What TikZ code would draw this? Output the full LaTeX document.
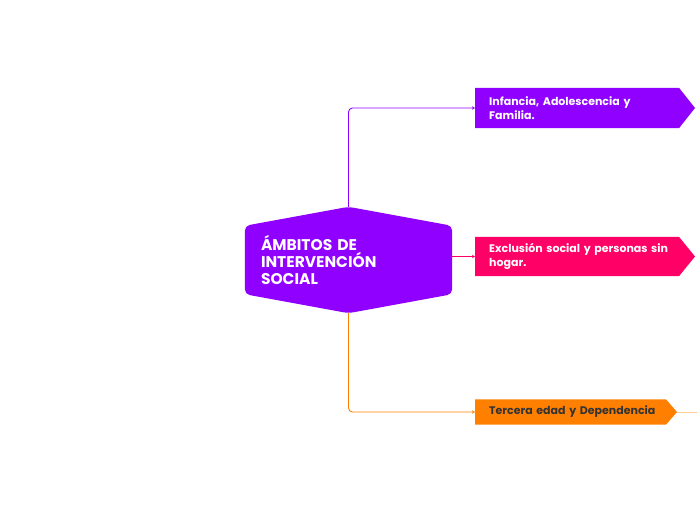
\documentclass[tikz,border=0pt]{standalone}
\usepackage{fontspec}
\setmainfont{Poppins}
\usetikzlibrary{arrows.meta,positioning,calc,backgrounds}
\definecolor{hubpurple}{HTML}{9000FF}
\definecolor{pinkred}{HTML}{FF0066}
\definecolor{brightorange}{HTML}{FF8000}
\definecolor{darktext}{HTML}{333333}

\begin{document}
\begin{tikzpicture}[x=1pt, y=-1pt,
    hub/.style={minimum width=207pt, minimum height=106pt, inner sep=0pt, text width=175pt, align=left, font=\bfseries\fontsize{15.5}{17}\selectfont, text=white},
    branch/.style={anchor=west, inner xsep=14pt, inner ysep=0pt, text width=185pt, align=left, font=\bfseries\fontsize{11}{14}\selectfont, text=white},
    link/.style={line width=0.9pt, rounded corners=4pt, -{Stealth[length=3pt,width=3.5pt]}}
  ]
    \useasboundingbox (0,0) rectangle (697,520);

    \node[hub] (hub) at (348.5,260) {ÁMBITOS DE\\INTERVENCIÓN\\SOCIAL};
    \node[branch, minimum height=40pt] (infancia) at (475,108) {Infancia, Adolescencia y\\Familia.};
    \node[branch, minimum height=39pt] (exclusion) at (475,256.5) {Exclusión social y personas sin\\hogar.};
    \node[branch, minimum height=25pt, text=darktext] (tercera) at (475,412) {Tercera edad y Dependencia};
    \coordinate (edge) at (697,412);

    \begin{scope}[on background layer]
      % hexagon behind the central text
      \fill[hubpurple, rounded corners=5pt] (hub.north) -- ($(hub.north east)+(0,19)$) -- ($(hub.south east)+(0,-19)$)
        -- (hub.south) -- ($(hub.south west)+(0,-19)$) -- ($(hub.north west)+(0,19)$) -- cycle;
      % pointed boxes
      \foreach \n/\w/\t/\c in {infancia/204/16/hubpurple, exclusion/204/16/pinkred, tercera/191/11/brightorange}
        \fill[\c] (\n.north west) -- ++(\w,0) -- ($(\n.west)+(\w+\t,0)$) -- ($(\n.south west)+(\w,0)$) -- (\n.south west) -- cycle;
    \end{scope}

    \draw[link, hubpurple] (hub.north) |- (infancia.west);
    \draw[link, pinkred] (exclusion.west -| hub.east) -- (exclusion.west);
    \draw[link, brightorange] (hub.south) |- (tercera.west);
    \draw[brightorange!40, line width=0.9pt] ($(tercera.west)+(202,0)$) -- (edge);
  \end{tikzpicture}
\end{document}
